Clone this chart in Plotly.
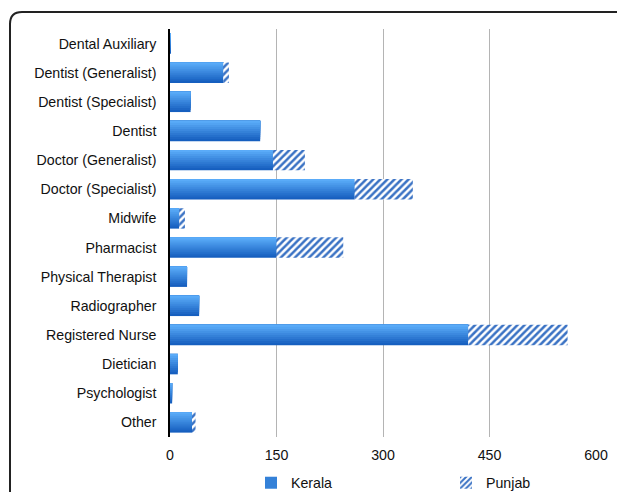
import plotly.graph_objects as go

categories = ["Dental Auxiliary", "Dentist (Generalist)", "Dentist (Specialist)", "Dentist",
              "Doctor (Generalist)", "Doctor (Specialist)", "Midwife", "Pharmacist",
              "Physical Therapist", "Radiographer", "Registered Nurse", "Dietician",
              "Psychologist", "Other"]
kerala = [1, 75, 29, 127, 145, 260, 13, 150, 24, 41, 420, 11, 3, 31]
punjab = [0, 8, 0, 0, 45, 82, 8, 94, 0, 0, 140, 0, 0, 5]
x_ticks = [0, 150, 300, 450, 600]

W, H = 625, 492
OFF = 8  # page body margin offset
# target plot area in viewport pixels: x 170..596, y 29..437
L, T = 170 - OFF, 29 - OFF
R = W - (596 - OFF)
B = H - (437 - OFF)
pw, ph = W - L - R, H - T - B
BAR_W = 0.7

fig = go.Figure()

# Kerala bars drawn as layered strips to mimic the vertical gradient
dark = (0x16, 0x5f, 0xbf)
light = (0x5a, 0xab, 0xf8)
N = 10
for i in range(N):
    t = i / (N - 1)
    c = tuple(round(dark[k] + (light[k] - dark[k]) * t) for k in range(3))
    frac = 1 - i / N
    fig.add_trace(go.Bar(
        y=categories, x=kerala, orientation="h",
        name="Kerala", legendgroup="k", showlegend=(i == 4),
        width=BAR_W * frac, offset=-BAR_W / 2,
        marker=dict(color="rgb(%d,%d,%d)" % c, line=dict(width=0)),
    ))

fig.add_trace(go.Bar(
    y=categories, x=punjab, base=kerala, name="Punjab", orientation="h",
    width=BAR_W, offset=-BAR_W / 2,
    marker=dict(color="white", line=dict(width=0),
                pattern=dict(shape="/", fgcolor="#3a72c4", bgcolor="white", fgopacity=1,
                             size=5, solidity=0.5, fillmode="replace")),
))

def px(xv):
    return (xv - OFF - L) / pw

def py(yv):
    return 1 - (yv - OFF - T) / ph

r = 12
x0, y0 = 10, 12
path = (f"M {px(x0)} {py(H + 30)} L {px(x0)} {py(y0 + r)} "
        f"Q {px(x0)} {py(y0)} {px(x0 + r)} {py(y0)} L {px(W + 30)} {py(y0)}")

fig.update_layout(
    width=W, height=H,
    margin=dict(l=L, r=R, t=T, b=B, pad=0, autoexpand=False),
    barmode="overlay",
    paper_bgcolor="white", plot_bgcolor="white",
    font=dict(family="Liberation Sans, Arial, sans-serif", size=14.2, color="#111111"),
    xaxis=dict(range=[0, 600], tickvals=x_ticks, showgrid=True, gridcolor="#b4b4b4",
               gridwidth=1, zeroline=False, showline=False, ticks="",
               ticklabelstandoff=8, fixedrange=True, automargin=False),
    yaxis=dict(autorange="reversed", showline=True, linecolor="black", linewidth=1.5,
               showgrid=False, ticks="", ticklabelstandoff=9, fixedrange=True,
               automargin=False),
    legend=dict(orientation="h", x=(251 - OFF - L) / pw, xanchor="left",
                y=py(483), yanchor="middle", entrywidth=150, entrywidthmode="pixels",
                traceorder="normal", font=dict(size=14.2), itemwidth=30,
                bgcolor="rgba(0,0,0,0)"),
    shapes=[dict(type="path", xref="paper", yref="paper", path=path,
                 line=dict(color="#222222", width=2), layer="above")],
    showlegend=True,
)

fig.write_html("out.html")
